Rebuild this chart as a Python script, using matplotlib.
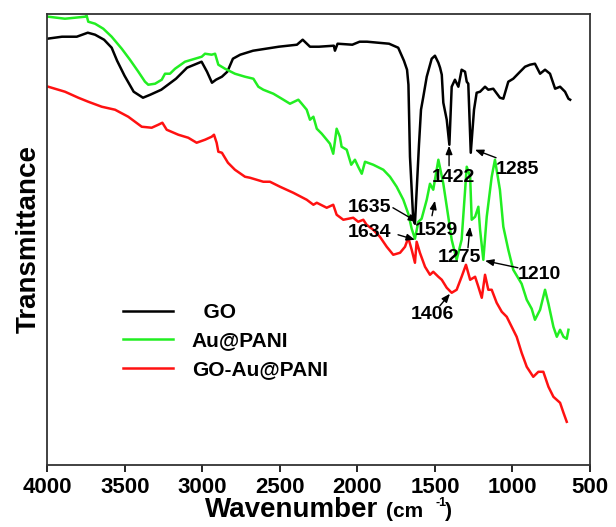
import numpy as np
import matplotlib
matplotlib.use("Agg")
import matplotlib.pyplot as plt

plt.rcParams['font.family'] = ['Liberation Sans', 'DejaVu Sans']
plt.rcParams['font.weight'] = 'bold'

# GO spectrum (wavenumber, transmittance a.u.)
go_w = [4000, 3905, 3810, 3739, 3692, 3634, 3585, 3550, 3502, 3443, 3383, 3336,
        3265, 3170, 3099, 3005, 2970, 2938, 2912, 2874, 2839, 2803, 2756, 2673,
        2507, 2390, 2353, 2306, 2248, 2152, 2145, 2128, 2033, 1986, 1938, 1796,
        1737, 1700, 1680, 1671, 1661, 1640, 1629, 1616, 1603, 1590, 1575, 1553,
        1521, 1500, 1478, 1467, 1456, 1446, 1424, 1407, 1392, 1371, 1349, 1328,
        1306, 1295, 1285, 1269, 1248, 1231, 1209, 1177, 1156, 1124, 1081, 1059,
        1027, 995, 951, 919, 887, 855, 822, 790, 758, 725, 693, 661, 639, 628]
go_t = [426, 428, 428, 432, 430, 425, 417, 404, 389, 373, 367, 370,
        375, 386, 397, 403, 393, 382, 385, 388, 393, 406, 410, 414,
        418, 420, 425, 418, 418, 419, 414, 421, 420, 423, 423, 421,
        417, 404, 395, 380, 308, 245, 241, 280, 320, 355, 368, 388,
        406, 409, 402, 397, 390, 362, 345, 320, 378, 385, 378, 395,
        393, 383, 381, 312, 355, 372, 373, 378, 375, 376, 367, 366,
        383, 386, 393, 398, 400, 401, 391, 395, 391, 376, 378, 373, 366, 365]

# Au@PANI spectrum
au_w = [3994, 3886, 3821, 3757, 3746, 3736, 3692, 3639, 3585, 3520, 3467, 3413,
        3370, 3349, 3305, 3262, 3241, 3209, 3176, 3112, 3047, 3004, 2983, 2940,
        2918, 2897, 2854, 2790, 2725, 2671, 2639, 2607, 2542, 2488, 2435, 2381,
        2359, 2327, 2306, 2284, 2262, 2230, 2198, 2177, 2156, 2134, 2113, 2102,
        2069, 2040, 2016, 1995, 1972, 1951, 1898, 1833, 1790, 1747, 1704, 1672,
        1650, 1629, 1607, 1586, 1553, 1532, 1511, 1478, 1446, 1414, 1392, 1360,
        1328, 1295, 1273, 1263, 1241, 1220, 1209, 1188, 1166, 1134, 1113, 1081,
        1059, 1027, 995, 941, 908, 876, 855, 822, 790, 768, 736, 714, 693, 671,
        650, 639]
au_t = [448, 446, 447, 448, 449, 443, 441, 436, 428, 416, 405, 393,
        383, 380, 381, 385, 391, 391, 396, 403, 406, 408, 411, 410,
        411, 400, 396, 391, 388, 386, 378, 375, 371, 366, 361, 365,
        361, 355, 345, 348, 336, 331, 325, 321, 311, 336, 328, 318,
        315, 300, 305, 298, 291, 303, 300, 295, 288, 278, 265, 251,
        236, 226, 243, 246, 265, 281, 275, 305, 281, 248, 225, 205,
        225, 298, 288, 245, 248, 258, 235, 205, 248, 288, 305, 275,
        238, 215, 195, 181, 165, 156, 145, 155, 175, 161, 138, 128, 135, 128,
        126, 135]

# GO-Au@PANI spectrum
ga_w = [3994, 3886, 3800, 3736, 3649, 3563, 3478, 3391, 3327, 3284, 3258, 3230,
        3155, 3091, 3037, 2983, 2940, 2925, 2908, 2897, 2874, 2835, 2790, 2725,
        2693, 2607, 2564, 2499, 2414, 2327, 2284, 2262, 2198, 2156, 2134, 2091,
        2027, 1995, 1962, 1941, 1898, 1855, 1811, 1769, 1725, 1693, 1672, 1650,
        1629, 1618, 1597, 1564, 1532, 1511, 1478, 1456, 1424, 1392, 1360, 1328,
        1300, 1273, 1241, 1220, 1198, 1177, 1156, 1134, 1102, 1069, 1037, 1005,
        973, 941, 908, 866, 833, 801, 768, 736, 693, 671, 650]
ga_t = [378, 373, 367, 363, 358, 355, 348, 338, 337, 340, 342, 335,
        330, 327, 322, 325, 328, 330, 322, 313, 312, 302, 295, 288,
        287, 283, 283, 278, 272, 265, 260, 262, 257, 260, 250, 245,
        247, 243, 245, 240, 235, 228, 218, 210, 212, 218, 227, 215,
        202, 223, 212, 198, 190, 193, 188, 185, 177, 172, 175, 188,
        200, 185, 188, 178, 167, 190, 175, 175, 162, 153, 148, 138,
        128, 112, 98, 88, 93, 93, 78, 68, 62, 52, 43]

# peak labels: text (w, T), arrow tail (w, T), arrow tip (w, T)
peak_labels = ['1635', '1634', '1529', '1422', '1285', '1275', '1210', '1406']
label_pos = [(1919, 257), (1919, 232), (1493, 234), (1384, 287),
             (965, 295), (1345, 207), (829, 190), (1513, 150)]
arrow_tail = [(1771, 257), (1738, 230), (1519, 249), (1409, 299),
              (1106, 307), (1287, 217), (965, 197), (1468, 159)]
arrow_tip = [(1616, 243), (1629, 225), (1500, 264), (1409, 319),
             (1242, 315), (1274, 238), (1177, 204), (1403, 171)]

fig = plt.figure(figsize=(6.16, 5.27), dpi=100)
ax = fig.add_axes([0.0768, 0.118, 0.881, 0.856])

ax.plot(go_w, go_t, color='black', lw=1.8, label='  GO')
ax.plot(au_w, au_t, color='#22ee22', lw=1.8, label='Au@PANI')
ax.plot(ga_w, ga_t, color='#ff1111', lw=1.8, label='GO-Au@PANI')

for lab, p, t0, t1 in zip(peak_labels, label_pos, arrow_tail, arrow_tip):
    ax.text(p[0], p[1], lab, fontsize=14, fontweight='bold', ha='center', va='center')
    ax.annotate('', xy=t1, xytext=t0,
                arrowprops=dict(arrowstyle='-|>,head_length=0.5,head_width=0.2',
                                color='black', lw=1.0, shrinkA=0, shrinkB=0))

ax.set_xlim(4000, 500)
ax.set_ylim(0, 451)
ax.set_xticks([4000, 3500, 3000, 2500, 2000, 1500, 1000, 500])
ax.set_yticks([])
ax.tick_params(axis='x', direction='out', length=5, width=1.2, labelsize=16, pad=4)
for lbl in ax.get_xticklabels():
    lbl.set_fontweight('bold')
for s in ax.spines.values():
    s.set_linewidth(1.3)
    s.set_color('#333333')

ax.set_ylabel('Transmittance', fontsize=20, fontweight='bold', labelpad=4)

fig.text(205 / 616, 1 - 517 / 527, 'Wavenumber', fontsize=20, fontweight='bold', va='baseline')
fig.text(386 / 616, 1 - 517 / 527, '(cm', fontsize=15, fontweight='bold', va='baseline')
fig.text(435 / 616, 1 - 506 / 527, '-1', fontsize=9, fontweight='bold', va='baseline')
fig.text(445 / 616, 1 - 517 / 527, ')', fontsize=15, fontweight='bold', va='baseline')

leg = ax.legend(loc='upper left', bbox_to_anchor=(0.105, 0.40), frameon=False,
                fontsize=15, handlelength=2.4, handletextpad=0.9, labelspacing=0.45)
for t in leg.get_texts():
    t.set_fontweight('bold')

fig.savefig('out.png', dpi=100)
